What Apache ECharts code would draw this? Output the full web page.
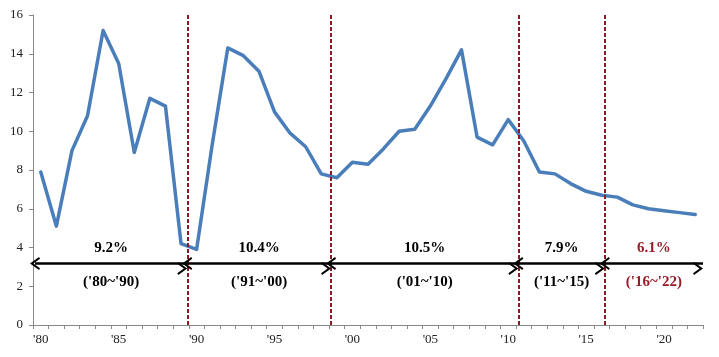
<!DOCTYPE html>
<html>
<head>
<meta charset="utf-8">
<script src="https://cdn.jsdelivr.net/npm/echarts@6/dist/echarts.min.js"></script>
<style>
html,body{margin:0;padding:0;background:#fff;}
#chart{width:719px;height:357px;}
</style>
</head>
<body>
<div id="chart"></div>
<script>
// ---- data ----
const years = [];
for (let y = 1980; y <= 2022; y++) years.push(String(y));
const growth = [
  7.9, 5.1, 9.0, 10.8, 15.2, 13.5, 8.9, 11.7, 11.3, 4.2,
  3.9, 9.3, 14.3, 13.9, 13.1, 11.0, 9.9, 9.2, 7.8, 7.6,
  8.4, 8.3, 9.1, 10.0, 10.1, 11.3, 12.7, 14.2, 9.7, 9.3,
  10.6, 9.5, 7.9, 7.8, 7.3, 6.9, 6.7, 6.6, 6.2, 6.0,
  5.9, 5.8, 5.7
];
// period boundaries, in category-width units from the left edge of the plot
const periodBounds = [0.13, 9.9, 19.13, 31.15, 36.7, 43];
const periodRates = ['9.2%', '10.4%', '10.5%', '7.9%', '6.1%'];
const periodNames = ["('80~'90)", "('91~'00)", "('01~'10)", "('11~'15)", "('16~'22)"];
const yTicks = [0, 2, 4, 6, 8, 10, 12, 14, 16];

// ---- options ----
const arrowY = 3.17;
const black = '#000';
const red = '#9A1B28';
const chevron = 'path://M6,0 L12,9 L10.4,10 L6,3.4 L1.6,10 L0,9 Z';

const dividers = periodBounds.slice(1, -1).map(v => ({ xAxis: v }));
const arrows = [];
const textData = [];
for (let i = 0; i < periodRates.length; i++) {
  const a = periodBounds[i], b = periodBounds[i + 1];
  arrows.push([
    { coord: [a, arrowY], lineStyle: { color: black, width: 2.5, type: 'solid' }, symbol: chevron },
    { coord: [b, arrowY], symbol: chevron }
  ]);
  const col = i === periodRates.length - 1 ? red : black;
  const mid = (a + b) / 2;
  textData.push({ value: [mid, arrowY + 0.8], name: periodRates[i], label: { color: col } });
  textData.push({ value: [mid, arrowY - 0.95], name: periodNames[i], label: { color: col } });
}

const chart = echarts.init(document.getElementById('chart'), null, { renderer: 'canvas' });
chart.setOption({
  animation: false,
  backgroundColor: '#fff',
  grid: { left: 33, right: 16, top: 15, bottom: 32, containLabel: false },
  xAxis: [{
    type: 'category',
    data: years,
    boundaryGap: true,
    axisLine: { lineStyle: { color: '#888', width: 1 } },
    axisTick: { show: true, interval: 0, length: 4, lineStyle: { color: '#888' } },
    axisLabel: {
      interval: 4, margin: 8,
      fontFamily: 'Liberation Serif', fontSize: 13, color: '#222',
      formatter: v => "'" + v.slice(2)
    },
    splitLine: { show: false }
  }, {
    type: 'value', min: 0, max: 43, show: false
  }],
  yAxis: {
    type: 'value', min: 0, max: 16, interval: 2,
    axisLine: { show: true, lineStyle: { color: '#888', width: 1 } },
    axisTick: { show: true, length: 4, lineStyle: { color: '#888' } },
    axisLabel: {
      margin: 10, fontFamily: 'Liberation Serif', fontSize: 13, color: '#222',
      customValues: yTicks
    },
    splitLine: { show: false }
  },
  series: [{
    type: 'line',
    data: growth,
    xAxisIndex: 0,
    symbol: 'none',
    lineStyle: { color: '#4A7EBB', width: 3.5, join: 'round', cap: 'round' },
    z: 2
  }, {
    type: 'scatter',
    xAxisIndex: 1,
    data: textData,
    symbolSize: 0,
    itemStyle: { opacity: 1 },
    z: 5,
    label: {
      show: true, position: 'inside', opacity: 1,
      formatter: p => p.name,
      fontFamily: 'Liberation Serif', fontWeight: 'bold', fontSize: 15
    },
    markLine: {
      silent: true,
      animation: false,
      symbol: 'none',
      symbolSize: [13, 10],
      symbolOffset: [0, 5],
      label: { show: false },
      lineStyle: { color: '#8B1A22', width: 2, type: [4, 2] },
      data: dividers.concat(arrows)
    }
  }]
});
</script>
</body>
</html>
